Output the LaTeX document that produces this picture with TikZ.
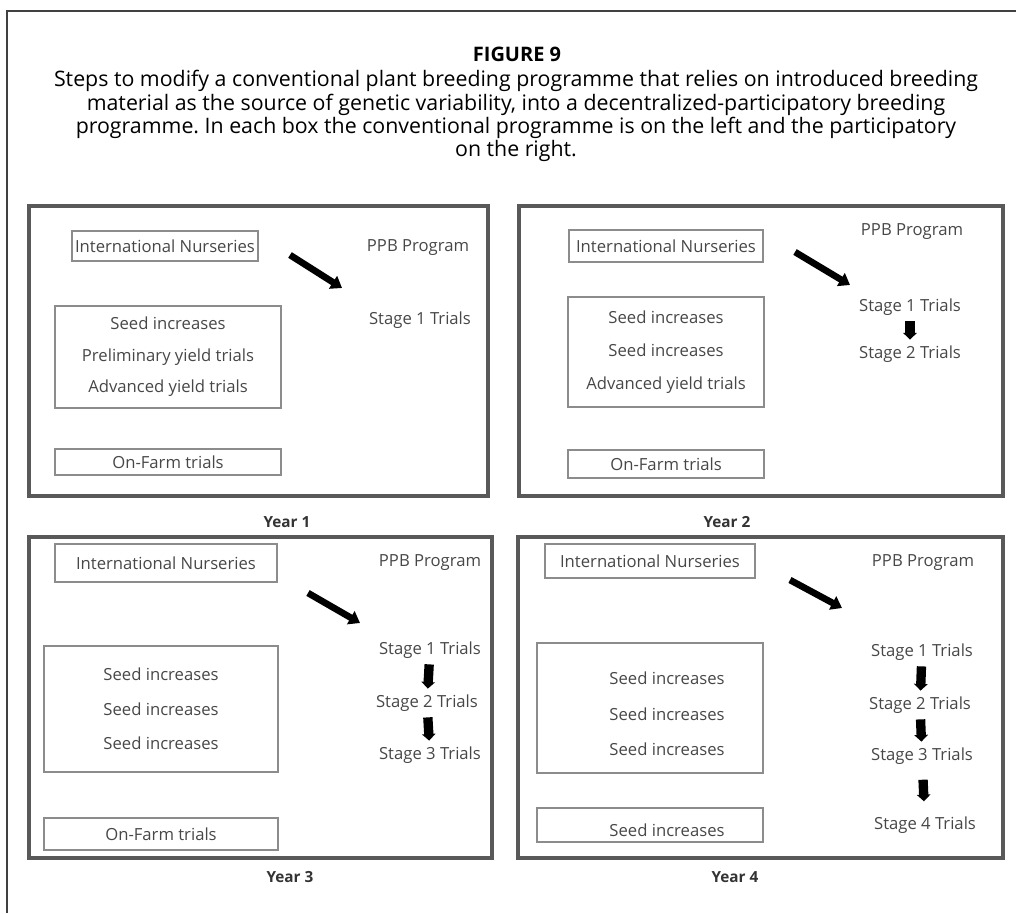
\documentclass[tikz,border=0pt]{standalone}
\usepackage{fontspec}
\setmainfont{Open Sans}
\usetikzlibrary{arrows.meta, positioning}

\tikzset{
  panel/.style={draw=black!65, line width=2.4pt},
  inbox/.style={draw=black!45, line width=1.4pt, inner sep=0pt},
  txt/.style={font=\fontsize{12.5}{14}\selectfont, text=black!72},
  yearlbl/.style={font=\bfseries\fontsize{11.5}{13}\selectfont, text=black!80},
  bigarrow/.style={line width=5pt, -{Triangle[length=8pt,width=11pt]}},
  stagearrow/.style={line width=7pt, -{Triangle[length=5pt,width=10pt]}}
}

\begin{document}
\begin{tikzpicture}[x=0.75pt, y=-0.75pt]
  \useasboundingbox (0,0) rectangle (1016,913);
  \draw[black!75, line width=0.9pt] (7,913) -- (7,11) -- (1016,11);

  % caption
  \node[font=\bfseries\fontsize{15}{17}\selectfont] (fig) at (517,54) {FIGURE 9};
  \node[align=center, font=\frenchspacing\fontsize{16}{17.6}\selectfont, anchor=north, inner sep=0pt] (cap) at (516,70)
    {Steps to modify a conventional plant breeding programme that relies on introduced breeding\\
     material as the source of genetic variability, into a decentralized-participatory breeding\\
     programme. In each box the conventional programme is on the left and the participatory\\
     on the right.};

  % Year 1
  \draw[panel] (29,206) rectangle (488,496);
  \node[inbox, txt, minimum width=140pt, minimum height=23pt] (nur1) at (165,246) {International Nurseries};
  \node[inbox, txt, align=center, minimum width=170pt, minimum height=76pt,
        font=\fontsize{12.5}{23.6}\selectfont] (conv1) at (168,357)
    {Seed increases\\Preliminary yield trials\\Advanced yield trials};
  \node[inbox, txt, minimum width=170pt, minimum height=19pt] (farm1) at (168,462) {On-Farm trials};
  \node[txt] (ppb1) at (418,248) {PPB Program};
  \node[txt] (st11) at (420,320) {Stage 1 Trials};
  \coordinate (a1) at (290,255);
  \coordinate (b1) at (342,288);
  \draw[bigarrow] (a1) -- (b1);
  \node[yearlbl] (yr1) at (287,522) {Year 1};

  % Year 2
  \draw[panel] (519,206) rectangle (1003,496);
  \node[inbox, txt, minimum width=145pt, minimum height=24pt] (nur2) at (666,246) {International Nurseries};
  \node[inbox, txt, align=center, minimum width=147pt, minimum height=83pt,
        font=\fontsize{12.5}{24.5}\selectfont] (conv2) at (666,352)
    {Seed increases\\Seed increases\\Advanced yield trials};
  \node[inbox, txt, minimum width=147pt, minimum height=21pt] (farm2) at (666,464) {On-Farm trials};
  \node[txt] (ppb2) at (912,232) {PPB Program};
  \node[txt] (st21) at (910,307) {Stage 1 Trials};
  \node[txt] (st22) at (910,354) {Stage 2 Trials};
  \draw[stagearrow, shorten <=1pt, shorten >=1pt] (st21) -- (st22);
  \coordinate (a2) at (795,252);
  \coordinate (b2) at (850,285);
  \draw[bigarrow] (a2) -- (b2);
  \node[yearlbl] (yr2) at (727,522) {Year 2};

  % Year 3
  \draw[panel] (29,537) rectangle (492,858);
  \node[inbox, txt, minimum width=167pt, minimum height=28pt] (nur3) at (166,563) {International Nurseries};
  \node[inbox, txt, align=center, minimum width=175pt, minimum height=95pt,
        font=\fontsize{12.5}{26}\selectfont] (conv3) at (161,709)
    {Seed increases\\Seed increases\\Seed increases};
  \node[inbox, txt, minimum width=175pt, minimum height=24pt] (farm3) at (161,834) {On-Farm trials};
  \node[txt] (ppb3) at (430,563) {PPB Program};
  \node[txt] (st31) at (430,650) {Stage 1 Trials};
  \node[txt] (st32) at (427,703) {Stage 2 Trials};
  \node[txt] (st33) at (430,755) {Stage 3 Trials};
  \foreach \p/\q in {st31/st32, st32/st33}
    \draw[stagearrow, shorten <=1pt, shorten >=1pt] (\p) -- (\q);
  \coordinate (a3) at (308,593);
  \coordinate (b3) at (360,623);
  \draw[bigarrow] (a3) -- (b3);
  \node[yearlbl] (yr3) at (290,877) {Year 3};

  % Year 4
  \draw[panel] (518,537) rectangle (1003,858);
  \node[inbox, txt, minimum width=157pt, minimum height=25pt] (nur4) at (650,561) {International Nurseries};
  \node[inbox, minimum width=170pt, minimum height=98pt] (conv4) at (650,708) {};
  \node[txt, align=center, font=\fontsize{12.5}{26.6}\selectfont] (inc4) at (667,714)
    {Seed increases\\Seed increases\\Seed increases};
  \node[inbox, minimum width=170pt, minimum height=26pt] (farm4) at (650,825) {};
  \node[txt] (inc44) at (667,830) {Seed increases};
  \node[txt] (ppb4) at (923,563) {PPB Program};
  \node[txt] (st41) at (922,652) {Stage 1 Trials};
  \node[txt] (st42) at (920,705) {Stage 2 Trials};
  \node[txt] (st43) at (922,756) {Stage 3 Trials};
  \node[txt] (st44) at (925,825) {Stage 4 Trials};
  \foreach \p/\q/\s in {st41/st42/1pt, st42/st43/1pt, st43/st44/8pt}
    \draw[stagearrow, shorten <=\s, shorten >=\s] (\p) -- (\q);
  \coordinate (a4) at (790,580);
  \coordinate (b4) at (842,608);
  \draw[bigarrow] (a4) -- (b4);
  \node[yearlbl] (yr4) at (735,877) {Year 4};
\end{tikzpicture}
\end{document}
